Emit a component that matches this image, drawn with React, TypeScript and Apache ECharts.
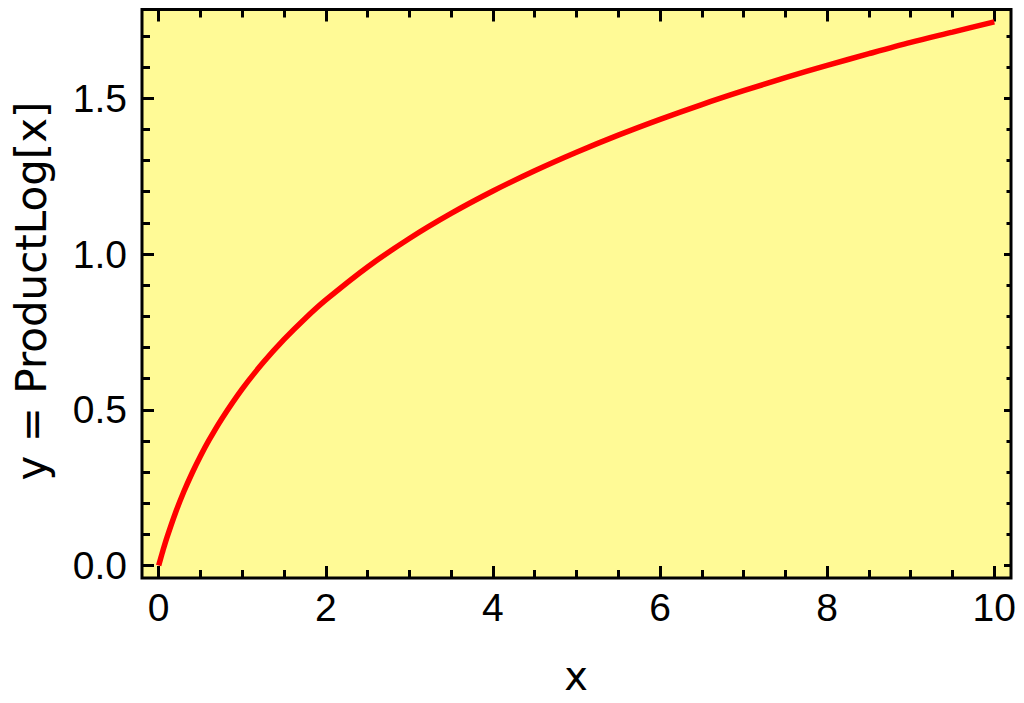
import React, { useEffect, useRef } from "react";
import * as echarts from "echarts";

// Curve samples (x, ProductLog[x])
const xValues = [0, 0.02, 0.05, 0.1, 0.2, 0.3, 0.4, 0.5, 0.6, 0.75, 1, 1.25, 1.5, 1.75, 2, 2.5, 3, 3.5, 4, 4.5, 5, 5.5, 6, 6.5, 7, 7.5, 8, 8.5, 9, 9.5, 10];
const yValues = [0, 0.0196, 0.0477, 0.0913, 0.1689, 0.2368, 0.2971, 0.3517, 0.4016, 0.4691, 0.5671, 0.6515, 0.7259, 0.7924, 0.8526, 0.9586, 1.0499, 1.1303, 1.2022, 1.2672, 1.3267, 1.3816, 1.4324, 1.4799, 1.5243, 1.5661, 1.6056, 1.6431, 1.6794, 1.7124, 1.7455];

const xMajorTicks = [0, 2, 4, 6, 8, 10];
const xMinorTicks = [0, 0.5, 1, 1.5, 2, 2.5, 3, 3.5, 4, 4.5, 5, 5.5, 6, 6.5, 7, 7.5, 8, 8.5, 9, 9.5, 10];
const xTickLabels = ["0", "2", "4", "6", "8", "10"];
const yMajorTicks = [0, 0.5, 1, 1.5];
const yMinorTicks = [0, 0.1, 0.2, 0.3, 0.4, 0.5, 0.6, 0.7, 0.8, 0.9, 1, 1.1, 1.2, 1.3, 1.4, 1.5, 1.6, 1.7];
const yTickLabels = ["0.0", "0.5", "1.0", "1.5"];

const xAxisTitle = "x";
const yAxisTitle = "y = ProductLog[x]";

const X_MIN = -0.2;
const X_MAX = 10.2;
const Y_MIN = -0.04;
const Y_MAX = 1.785;

const TICK_FONT = "Liberation Sans";
const TITLE_FONT = "DejaVu Sans";

function makeAxis(
  kind: "x" | "y",
  position: string,
  ticks: number[],
  len: number,
  labels: boolean
) {
  const isX = kind === "x";
  return {
    type: "value",
    position,
    min: isX ? X_MIN : Y_MIN,
    max: isX ? X_MAX : Y_MAX,
    axisLine: { show: false, onZero: false },
    splitLine: { show: false },
    axisTick: {
      show: true,
      inside: true,
      length: len,
      customValues: ticks,
      lineStyle: { color: "#000", width: 3 },
    },
    axisLabel: labels
      ? {
          show: true,
          customValues: isX ? xMajorTicks : yMajorTicks,
          color: "#000",
          fontFamily: TICK_FONT,
          fontSize: 39,
          margin: isX ? 10 : 15,
          formatter: (v: number) => {
            if (isX) {
              const i = xMajorTicks.indexOf(v);
              return i >= 0 ? xTickLabels[i] : String(v);
            }
            const j = yMajorTicks.indexOf(v);
            return j >= 0 ? yTickLabels[j] : v.toFixed(1);
          },
        }
      : { show: false },
  };
}

export default function App() {
  const ref = useRef<HTMLDivElement>(null);

  useEffect(() => {
    if (!ref.current) return;
    const chart = echarts.init(ref.current, null, { renderer: "svg" });
    const data = xValues.map((x, i) => [x, yValues[i]]);
    chart.setOption({
      animation: false,
      backgroundColor: "#ffffff",
      grid: {
        left: 142,
        right: 13,
        top: 9.5,
        bottom: 125,
        show: true,
        backgroundColor: "#fffa96",
        borderColor: "#000",
        borderWidth: 3,
      },
      xAxis: [
        makeAxis("x", "bottom", xMajorTicks, 12, true),
        makeAxis("x", "bottom", xMinorTicks, 8, false),
        makeAxis("x", "top", xMajorTicks, 12, false),
        makeAxis("x", "top", xMinorTicks, 8, false),
      ],
      yAxis: [
        makeAxis("y", "left", yMajorTicks, 12, true),
        makeAxis("y", "left", yMinorTicks, 8, false),
        makeAxis("y", "right", yMajorTicks, 7, false),
        makeAxis("y", "right", yMinorTicks, 4.5, false),
      ],
      series: [
        {
          type: "line",
          xAxisIndex: 0,
          yAxisIndex: 0,
          data,
          smooth: 0.3,
          showSymbol: false,
          symbol: "none",
          lineStyle: { color: "#ff0000", width: 5.5 },
        },
      ],
      graphic: [
        {
          type: "text",
          x: 576,
          y: 676,
          style: {
            text: xAxisTitle,
            fill: "#000",
            fontFamily: TITLE_FONT,
            fontSize: 40,
            align: "center",
            verticalAlign: "middle",
          },
        },
        {
          type: "text",
          x: 31,
          y: 291,
          rotation: Math.PI / 2,
          style: {
            text: yAxisTitle,
            fill: "#000",
            fontFamily: TITLE_FONT,
            fontSize: 42,
            align: "center",
            verticalAlign: "middle",
          },
        },
      ],
    });
    return () => chart.dispose();
  }, []);

  return (
    <div
      ref={ref}
      style={{ position: "fixed", left: 0, top: 0, width: 1024, height: 703 }}
    />
  );
}
